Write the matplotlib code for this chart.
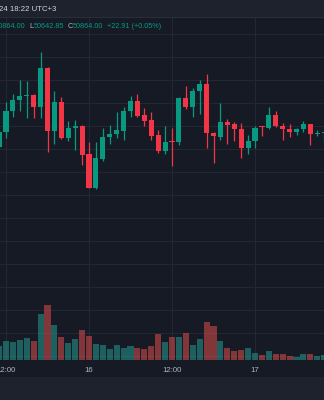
import numpy as np
import matplotlib
matplotlib.use('Agg')
import matplotlib.pyplot as plt
from matplotlib.patches import Rectangle
from matplotlib.ticker import MultipleLocator

plt.rcParams['font.family'] = ['Liberation Sans', 'DejaVu Sans']

# hourly candles, 15 Mar 11:00 onwards (index 1 = 12:00)
opens = [50550, 50863, 51326, 51559, 51663, 51667, 51420, 52254, 50891, 51528,
         50746, 50963, 51007, 50385, 49659, 50283, 50754, 50820, 50898, 51326,
         51550, 51239, 51124, 50798, 50463, 50674, 50659, 51602, 51420, 51761,
         51913, 50841, 50767, 51080, 51037, 50935, 50515, 50674, 50985, 50963,
         51239, 51007, 50935, 50863, 50935, 51037, 50830, 50841.09]
highs = [50913, 51515, 51689, 52000, 51985, 51696, 52615, 52289, 51761, 51624,
         51109, 51130, 51022, 50646, 50646, 50963, 51022, 51311, 51407, 51652,
         51689, 51398, 51311, 50913, 51007, 50963, 51620, 51870, 51820, 52000,
         52130, 50876, 51493, 51146, 51080, 51059, 50804, 51007, 51007, 51407,
         51326, 51059, 51037, 50950, 51109, 51037, 50913, 50864.00]
lows = [50522, 50746, 51202, 51326, 51167, 51167, 51167, 50441, 50602, 50717,
        50674, 50478, 50152, 49652, 49641, 50239, 50602, 50746, 50696, 51202,
        51189, 51007, 50696, 50407, 50385, 50137, 50587, 51363, 51202, 51261,
        50528, 50189, 50696, 50602, 50674, 50311, 50385, 50528, 50789, 50935,
        50985, 50696, 50767, 50804, 50863, 50587, 50789, 50642.85]
closes = [50876, 51333, 51565, 51652, 51670, 51420, 52254, 50891, 51528, 50746,
          50963, 51007, 50370, 49659, 50298, 50767, 50826, 50907, 51333, 51550,
          51224, 51115, 50789, 50463, 50659, 50663, 51602, 51420, 51761, 51913,
          50841, 50776, 51080, 51028, 50935, 50515, 50674, 50963, 50972, 51239,
          51007, 50935, 50863, 50935, 51037, 50826, 50841, 50864.00]
volumes = [140, 190, 177, 200, 220, 190, 460, 550, 350, 227,
           167, 210, 300, 237, 157, 150, 110, 150, 117, 140,
           117, 110, 137, 260, 183, 230, 227, 267, 150, 210,
           383, 340, 190, 120, 90, 100, 117, 67, 50, 90,
           60, 60, 43, 33, 60, 60, 40, 50]

tick_pos = [0, 12, 24, 36]
tick_labels = ['12:00', '16', '12:00', '17']

bg = '#161a25'
bar_bg = '#1e222d'
grid_c = '#232734'
up_c = '#089981'
down_c = '#f23645'
vol_up = (38/255, 166/255, 154/255, 0.5)
vol_down = (239/255, 83/255, 80/255, 0.5)

W, H = 324, 400
fig = plt.figure(figsize=(W/100, H/100), dpi=100, facecolor=bg)

def fx(px):
    return px / W

def fy(py):
    return 1 - py / H

# header strip and bottom toolbar
fig.patches.append(Rectangle((0, fy(17)), 1, 17/H, transform=fig.transFigure,
                             facecolor=bar_bg, edgecolor='none', zorder=0))
fig.patches.append(Rectangle((0, fy(17.5)), 1, 1/H, transform=fig.transFigure,
                             facecolor='#2a2e39', edgecolor='none', zorder=0))
fig.patches.append(Rectangle((0, 0), 1, 23/H, transform=fig.transFigure,
                             facecolor=bar_bg, edgecolor='none', zorder=0))

ax = fig.add_axes([0, fy(360), 1, (360-18)/H])
ax.set_facecolor(bg)
n = len(opens)
x = np.arange(n) - 1
o = np.array(opens); c = np.array(closes)
h = np.array(highs); l = np.array(lows)
up = c >= o
colors = np.where(up, up_c, down_c)

ax.vlines(x, l, h, colors=colors, linewidth=0.9, zorder=3)
body_lo = np.minimum(o, c)
body_h = np.maximum(np.abs(c - o), 20)
ax.bar(x, body_h, bottom=body_lo, width=0.74, color=colors, zorder=4)

px = 500 / 23
ax.set_ylim(51000 - (360 - 126) * px, 51000 + (126 - 18) * px)
ax.set_xlim(-0.8675, 45.97)
ax.yaxis.set_major_locator(MultipleLocator(500))
ax.set_xticks(tick_pos)
ax.set_xticklabels(tick_labels)
ax.tick_params(axis='x', length=0, pad=5, labelsize=5.6, labelcolor='#b2b5be')
ax.tick_params(axis='y', length=0, labelleft=False)
ax.grid(True, color=grid_c, linewidth=0.8, zorder=0)
for s in ax.spines.values():
    s.set_visible(False)

# volume overlay
vax = ax.twinx()
vax.set_ylim(0, 3420)
vcol = [vol_up if u else vol_down for u in up]
vax.bar(x, volumes, width=0.88, color=vcol, zorder=2)
vax.set_xlim(ax.get_xlim())
vax.axis('off')

# header texts
fs = 5.2
fig.text(fx(-1), fy(9.5), '24 18:22 UTC+3', color='#d1d4dc', fontsize=5.6,
         ha='left', va='center')
txt = '#b2b5be'
fig.text(fx(25.5), fy(26), 'H50864.00', color=up_c, fontsize=fs, ha='right', va='center')
fig.text(fx(29.5), fy(26), 'L', color=txt, fontsize=fs, ha='left', va='center')
fig.text(fx(33.8), fy(26), '50642.85', color=up_c, fontsize=fs, ha='left', va='center')
fig.text(fx(67.6), fy(26), 'C', color=txt, fontsize=fs, ha='left', va='center')
fig.text(fx(72.8), fy(26), '50864.00', color=up_c, fontsize=fs, ha='left', va='center')
fig.text(fx(107.5), fy(26), '+22.91 (+0.05%)', color=up_c, fontsize=fs, ha='left', va='center')

fig.savefig('out.png', dpi=100, facecolor=bg)
